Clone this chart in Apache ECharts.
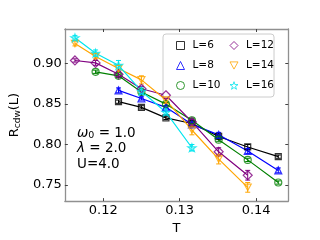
<!DOCTYPE html>
<html>
<head>
<meta charset="utf-8">
<script src="https://cdn.jsdelivr.net/npm/echarts@6/dist/echarts.min.js"></script>
<style>html,body{margin:0;padding:0;background:#fff}#c{width:320px;height:240px}</style>
</head>
<body>
<div id="c"></div>
<script>
// Temperatures (x)
var T = [0.1163, 0.1190, 0.1220, 0.1250, 0.1282, 0.1316, 0.1351, 0.1389, 0.1429];
// R_cdw(L) values per L (null = no point)
var L6  = [null, null, 0.853, 0.846, 0.833, 0.826, 0.810, 0.797, 0.785];
var L8  = [null, null, 0.867, 0.857, 0.846, 0.825, 0.812, 0.792, 0.768];
var L10 = [null, 0.890, 0.885, 0.865, 0.850, 0.830, 0.806, 0.781, 0.753];
var L12 = [0.904, 0.901, 0.887, 0.869, 0.861, 0.828, 0.791, 0.762, null];
var L14 = [0.925, 0.909, 0.894, 0.880, 0.855, 0.818, 0.782, 0.747, null];
var L16 = [0.932, 0.913, 0.898, 0.866, 0.840, 0.796, null, null, null];
// error bar half widths
var E6  = [null, null, 0.002, 0.002, 0.002, 0.002, 0.002, 0.003, 0.002];
var E8  = [null, null, 0.003, 0.002, 0.002, 0.003, 0.003, 0.003, 0.003];
var E10 = [null, 0.002, 0.002, 0.002, 0.002, 0.002, 0.002, 0.002, 0.002];
var E12 = [0.002, 0.003, 0.003, 0.003, 0.004, 0.003, 0.005, 0.006, null];
var E14 = [0.003, 0.003, 0.004, 0.005, 0.004, 0.006, 0.006, 0.006, null];
var E16 = [0.003, 0.004, 0.006, 0.004, 0.004, 0.004, null, null, null];
var names = ['L=6', 'L=8', 'L=10', 'L=12', 'L=14', 'L=16'];
var xTicks = [0.12, 0.13, 0.14];
var yTicks = [0.75, 0.80, 0.85, 0.90];

var vals = [L6, L8, L10, L12, L14, L16];
var errs = [E6, E8, E10, E12, E14, E16];
var colors = ['#000000', '#0000ff', '#008000', '#800080', '#ffa500', '#00e5ee'];
var symbols = ['rect', 'triangle', 'circle', 'diamond',
  'path://M0,0 L10,0 L5,9 Z',
  'path://M5,0 L6.2,3.6 L10,3.6 L6.9,5.9 L8.1,9.5 L5,7.3 L1.9,9.5 L3.1,5.9 L0,3.6 L3.8,3.6 Z'];
var sizes = [6, 7, 7, 9, 7, 8];

function pairs(v) {
  var out = [];
  for (var i = 0; i < T.length; i++) if (v[i] != null) out.push([T[i], v[i]]);
  return out;
}
function triples(v, e) {
  var out = [];
  for (var i = 0; i < T.length; i++) if (v[i] != null) out.push([T[i], v[i], e[i]]);
  return out;
}

var series = [];
names.forEach(function (n, k) {
  series.push({
    name: n, type: 'scatter', z: 4, symbol: symbols[k], symbolSize: sizes[k],
    symbolKeepAspect: true,
    data: pairs(vals[k]),
    itemStyle: { color: 'rgba(255,255,255,0)', borderColor: colors[k], borderWidth: 1.2 },
    emphasis: { disabled: true }
  });
});
names.forEach(function (n, k) {
  series.push({
    name: n, type: 'line', z: 2, showSymbol: false, symbol: 'none',
    data: pairs(vals[k]),
    lineStyle: { color: colors[k], width: 1.2 },
    emphasis: { disabled: true }
  });
  series.push({
    type: 'custom', z: 3,
    data: triples(vals[k], errs[k]),
    encode: { x: 0, y: 1 },
    renderItem: (function (c) {
      return function (params, api) {
        var x = api.value(0), y = api.value(1), e = api.value(2);
        var lo = api.coord([x, y - e]), hi = api.coord([x, y + e]);
        var w = 2.5;
        return { type: 'group', children: [
          { type: 'line', shape: { x1: lo[0], y1: lo[1], x2: hi[0], y2: hi[1] }, style: { stroke: c, lineWidth: 1 } },
          { type: 'line', shape: { x1: lo[0] - w, y1: lo[1], x2: lo[0] + w, y2: lo[1] }, style: { stroke: c, lineWidth: 1 } },
          { type: 'line', shape: { x1: hi[0] - w, y1: hi[1], x2: hi[0] + w, y2: hi[1] }, style: { stroke: c, lineWidth: 1 } }
        ]};
      };
    })(colors[k])
  });
});

var frame = { show: true, lineStyle: { color: '#909090', width: 1.3 } };
var tick = { show: true, inside: true, length: 3, lineStyle: { color: '#444', width: 1 } };
var font = 'DejaVu Sans';

var legendData = names.map(function (n, k) {
  return { name: n, icon: symbols[k],
    itemStyle: { color: 'rgba(255,255,255,0)', borderColor: colors[k], borderWidth: 1 } };
});

var chart = echarts.init(document.getElementById('c'), null, { renderer: 'canvas' });
chart.setOption({
  animation: false,
  backgroundColor: '#fff',
  grid: { left: 64, right: 31.7, top: 29, bottom: 36, containLabel: false },
  xAxis: [{
    type: 'value', min: 0.11498, max: 0.14421, position: 'bottom',
    name: 'T', nameLocation: 'middle', nameGap: 15,
    nameTextStyle: { color: '#000', fontSize: 13, fontFamily: font },
    axisLine: frame, axisTick: Object.assign({ customValues: xTicks }, tick),
    axisLabel: { customValues: xTicks, color: '#000', fontSize: 13, fontFamily: font, margin: 3,
      formatter: function (v) { return v.toFixed(2); } },
    splitLine: { show: false }
  }, {
    type: 'value', min: 0.11498, max: 0.14421, position: 'top',
    axisLine: frame, axisTick: Object.assign({ customValues: xTicks }, tick),
    axisLabel: { show: false }, splitLine: { show: false }
  }],
  yAxis: [{
    type: 'value', min: 0.7300, max: 0.94294, position: 'left',
    name: '{r|R}{s|cdw}{r|(L)}', nameLocation: 'middle', nameGap: 37,
    nameTextStyle: { color: '#000', fontFamily: font, rich: {
      r: { fontSize: 13, fontFamily: font, color: '#000' },
      s: { fontSize: 9, fontFamily: font, color: '#000', verticalAlign: 'bottom', padding: [6, 0, 0, 0] } } },
    axisLine: frame, axisTick: Object.assign({ customValues: yTicks }, tick),
    axisLabel: { customValues: yTicks, color: '#000', fontSize: 13, fontFamily: font, margin: 3,
      formatter: function (v) { return v.toFixed(2); } },
    splitLine: { show: false }
  }, {
    type: 'value', min: 0.7300, max: 0.94294, position: 'right',
    axisLine: frame, axisTick: Object.assign({ customValues: yTicks }, tick),
    axisLabel: { show: false }, splitLine: { show: false }
  }],
  legend: {
    data: legendData, orient: 'vertical', left: 163, top: 34, height: 53,
    padding: [6, 0, 6, 13], itemWidth: 8, itemHeight: 8, itemGap: 9,
    borderColor: '#cccccc', borderWidth: 1, borderRadius: 3, backgroundColor: '#fff',
    textStyle: { color: '#000', fontSize: 10.5, fontFamily: font, width: 30, padding: [0, 0, 0, 3] },
    selectedMode: false
  },
  graphic: [{
    type: 'text', left: 77, top: 126, z: 10,
    style: { text: '{i|ω}{s|0}{n| = 1.0}', rich: {
      i: { fontSize: 13.5, fontFamily: font, fontStyle: 'italic', fill: '#000' },
      s: { fontSize: 9.5, fontFamily: font, fill: '#000', verticalAlign: 'bottom', padding: [6, 0, 0, 0] },
      n: { fontSize: 13.5, fontFamily: font, fill: '#000' } } }
  }, {
    type: 'text', left: 77, top: 141, z: 10,
    style: { text: '{i|λ}{n| = 2.0}', rich: {
      i: { fontSize: 13.5, fontFamily: font, fontStyle: 'italic', fill: '#000' },
      n: { fontSize: 13.5, fontFamily: font, fill: '#000' } } }
  }, {
    type: 'text', left: 77, top: 157, z: 10,
    style: { text: 'U=4.0', fontSize: 13.5, fontFamily: font, fill: '#000' }
  }],
  series: series
});
</script>
</body>
</html>
